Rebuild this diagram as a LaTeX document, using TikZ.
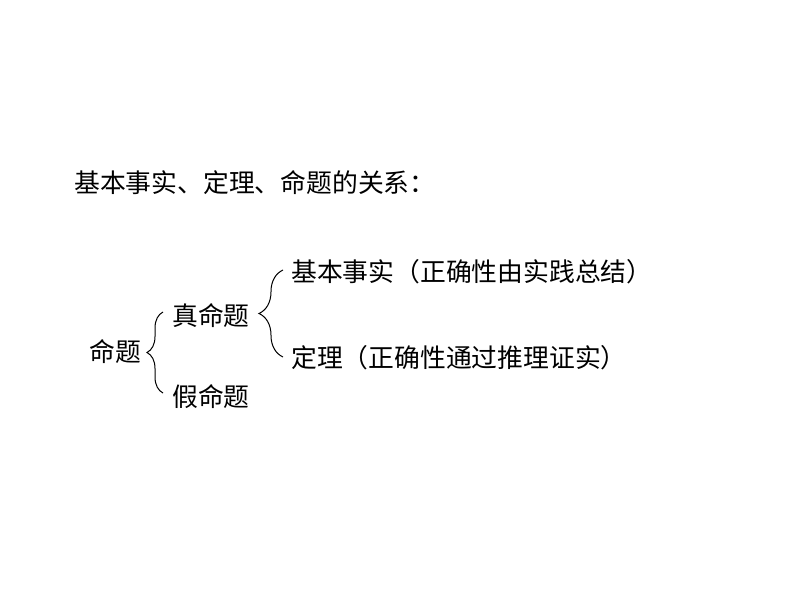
\documentclass[tikz,border=0pt]{standalone}
\usepackage{fontspec}
\setmainfont{Noto Sans CJK SC}
\usetikzlibrary{decorations.pathreplacing}
\begin{document}
\begin{tikzpicture}[x=1pt,y=-1pt,
  txt/.style={anchor=west,inner sep=0pt,font=\fontsize{25.8}{30}\selectfont},
  brc/.style={draw,line width=1pt,decorate,decoration={brace,amplitude=#1}}]
\useasboundingbox[fill=white] (0,0) rectangle (794,596);
\node[txt] (title) at (74,183) {基本事实、定理、命题的关系：};
\node[txt] (root) at (89,352) {命题};
\node[txt] (true) at (172,316) {真命题};
\node[txt] (false) at (172,397) {假命题};
\node[txt] (fact) at (291,272) {基本事实（正确性由实践总结）};
\node[txt] (thm) at (291,358) {定理（正确性通过推理证实）};
\coordinate (b1t) at (163,312);
\coordinate (b1b) at (163,393);
\coordinate (b2t) at (283,270);
\coordinate (b2b) at (283,357);
\draw[brc=16] (b1b) -- (b1t);
\draw[brc=24] (b2b) -- (b2t);
\end{tikzpicture}
\end{document}
